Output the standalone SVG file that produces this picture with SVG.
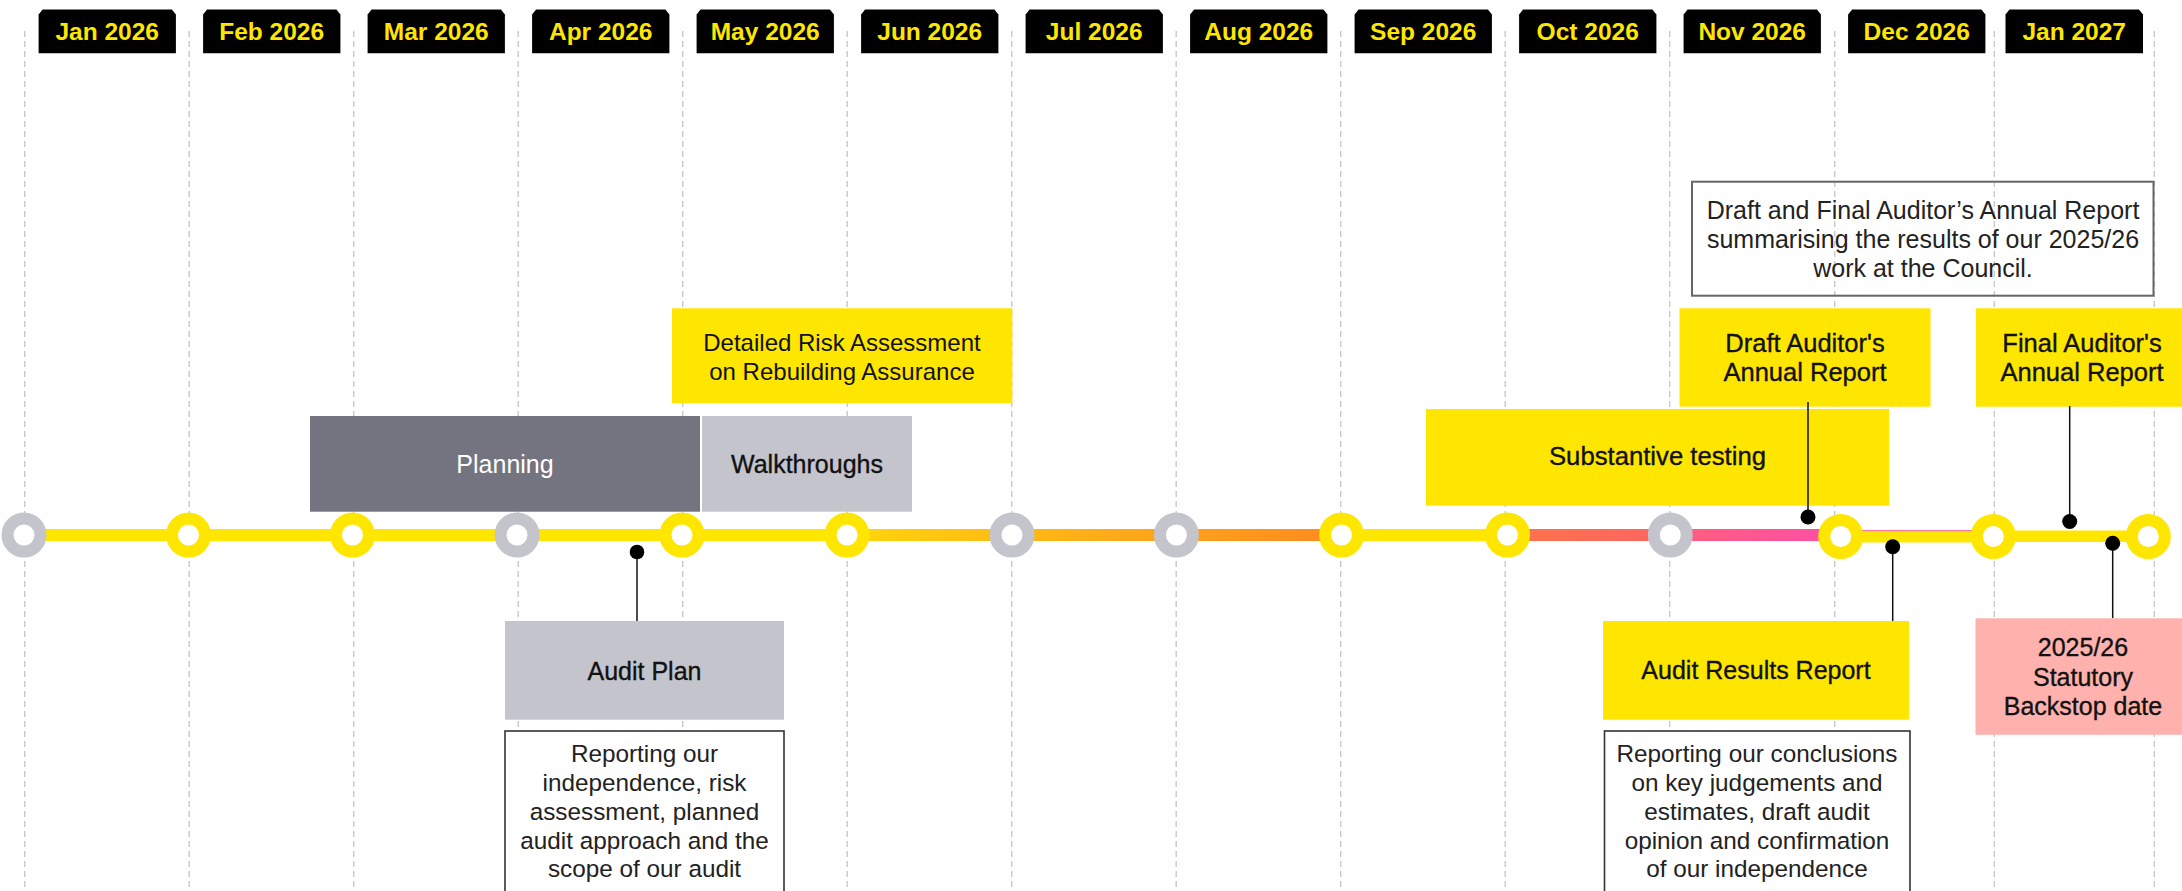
<svg xmlns="http://www.w3.org/2000/svg" width="2182" height="891" viewBox="0 0 2182 891">
<defs>
<style>
.dash{stroke:#C8C8CE;stroke-width:1.4;stroke-dasharray:6 4;fill:none}
.tab{fill:#000}
.tabt{font-family:"Liberation Sans",Arial,sans-serif;font-weight:bold;font-size:24.5px;fill:#FFE600;text-anchor:middle}
.ring{stroke-width:12;fill:#fff}
.ry{stroke:#FFE600}
.rg{stroke:#C4C4CD}
.t{font-family:"Liberation Sans",Arial,sans-serif;font-size:25px;text-anchor:middle;fill:#111}
.med{stroke:#111;stroke-width:0.35}
.desc{font-family:"Liberation Sans",Arial,sans-serif;font-size:24.3px;text-anchor:middle;fill:#222}
.conn{stroke:#111;stroke-width:1.5;fill:none}
.dot{fill:#000}
</style>
<linearGradient id="gOrange" x1="847" y1="0" x2="1341" y2="0" gradientUnits="userSpaceOnUse">
<stop offset="0" stop-color="#FFD60C"/>
<stop offset="0.33" stop-color="#FFBA14"/>
<stop offset="0.66" stop-color="#FFA21B"/>
<stop offset="1" stop-color="#FF8A1F"/>
</linearGradient>
<linearGradient id="gRed" x1="1507" y1="0" x2="1670" y2="0" gradientUnits="userSpaceOnUse">
<stop offset="0" stop-color="#FF744A"/>
<stop offset="1" stop-color="#FF6462"/>
</linearGradient>
<linearGradient id="gPink" x1="1670" y1="0" x2="1841" y2="0" gradientUnits="userSpaceOnUse">
<stop offset="0" stop-color="#FF5F7C"/>
<stop offset="1" stop-color="#FF4EA8"/>
</linearGradient>
</defs>
<rect width="2182" height="891" fill="#fff"/>

<g id="gridlines">
<line class="dash" x1="24.7" y1="31" x2="24.7" y2="891"/>
<line class="dash" x1="189.2" y1="31" x2="189.2" y2="891"/>
<line class="dash" x1="353.7" y1="31" x2="353.7" y2="891"/>
<line class="dash" x1="518.2" y1="31" x2="518.2" y2="891"/>
<line class="dash" x1="682.7" y1="31" x2="682.7" y2="891"/>
<line class="dash" x1="847.2" y1="31" x2="847.2" y2="891"/>
<line class="dash" x1="1011.7" y1="31" x2="1011.7" y2="891"/>
<line class="dash" x1="1176.2" y1="31" x2="1176.2" y2="891"/>
<line class="dash" x1="1340.7" y1="31" x2="1340.7" y2="891"/>
<line class="dash" x1="1505.2" y1="31" x2="1505.2" y2="891"/>
<line class="dash" x1="1669.7" y1="31" x2="1669.7" y2="891"/>
<line class="dash" x1="1834.7" y1="31" x2="1834.7" y2="891"/>
<line class="dash" x1="1994.3" y1="31" x2="1994.3" y2="891"/>
<line class="dash" x1="2154.3" y1="31" x2="2154.3" y2="891"/>
</g>

<g id="months">
<g id="m-jan26"><path class="tab" d="M38.6 14.5 L42.6 9.5 L171.9 9.5 L175.9 14.5 L175.9 53.3 L38.6 53.3 Z"/><text class="tabt" x="107.2" y="40">Jan 2026</text></g>
<g id="m-feb26"><path class="tab" d="M203.1 14.5 L207.1 9.5 L336.4 9.5 L340.4 14.5 L340.4 53.3 L203.1 53.3 Z"/><text class="tabt" x="271.7" y="40">Feb 2026</text></g>
<g id="m-mar26"><path class="tab" d="M367.6 14.5 L371.6 9.5 L500.9 9.5 L504.9 14.5 L504.9 53.3 L367.6 53.3 Z"/><text class="tabt" x="436.2" y="40">Mar 2026</text></g>
<g id="m-apr26"><path class="tab" d="M532.1 14.5 L536.1 9.5 L665.4 9.5 L669.4 14.5 L669.4 53.3 L532.1 53.3 Z"/><text class="tabt" x="600.7" y="40">Apr 2026</text></g>
<g id="m-may26"><path class="tab" d="M696.6 14.5 L700.6 9.5 L829.9 9.5 L833.9 14.5 L833.9 53.3 L696.6 53.3 Z"/><text class="tabt" x="765.2" y="40">May 2026</text></g>
<g id="m-jun26"><path class="tab" d="M861.1 14.5 L865.1 9.5 L994.4 9.5 L998.4 14.5 L998.4 53.3 L861.1 53.3 Z"/><text class="tabt" x="929.7" y="40">Jun 2026</text></g>
<g id="m-jul26"><path class="tab" d="M1025.6 14.5 L1029.6 9.5 L1158.9 9.5 L1162.9 14.5 L1162.9 53.3 L1025.6 53.3 Z"/><text class="tabt" x="1094.2" y="40">Jul 2026</text></g>
<g id="m-aug26"><path class="tab" d="M1190.1 14.5 L1194.1 9.5 L1323.4 9.5 L1327.4 14.5 L1327.4 53.3 L1190.1 53.3 Z"/><text class="tabt" x="1258.7" y="40">Aug 2026</text></g>
<g id="m-sep26"><path class="tab" d="M1354.6 14.5 L1358.6 9.5 L1487.9 9.5 L1491.9 14.5 L1491.9 53.3 L1354.6 53.3 Z"/><text class="tabt" x="1423.2" y="40">Sep 2026</text></g>
<g id="m-oct26"><path class="tab" d="M1519.1 14.5 L1523.1 9.5 L1652.4 9.5 L1656.4 14.5 L1656.4 53.3 L1519.1 53.3 Z"/><text class="tabt" x="1587.7" y="40">Oct 2026</text></g>
<g id="m-nov26"><path class="tab" d="M1683.6 14.5 L1687.6 9.5 L1816.9 9.5 L1820.9 14.5 L1820.9 53.3 L1683.6 53.3 Z"/><text class="tabt" x="1752.2" y="40">Nov 2026</text></g>
<g id="m-dec26"><path class="tab" d="M1848.1 14.5 L1852.1 9.5 L1981.4 9.5 L1985.4 14.5 L1985.4 53.3 L1848.1 53.3 Z"/><text class="tabt" x="1916.7" y="40">Dec 2026</text></g>
<g id="m-jan27"><path class="tab" d="M2005.5 14.5 L2009.5 9.5 L2139 9.5 L2143 14.5 L2143 53.3 L2005.5 53.3 Z"/><text class="tabt" x="2074.2" y="40">Jan 2027</text></g>
</g>

<g id="timeline">
<line x1="24" y1="535" x2="847" y2="535" stroke="#FFE600" stroke-width="12"/>
<rect x="847" y="529" width="494.5" height="12" fill="url(#gOrange)"/>
<line x1="1341" y1="535" x2="1508" y2="535" stroke="#FFE600" stroke-width="12"/>
<rect x="1507.5" y="529" width="163" height="12" fill="url(#gRed)"/>
<rect x="1670" y="529" width="171" height="12" fill="url(#gPink)"/>
<line x1="1840" y1="535" x2="1994" y2="535" stroke="#FF6F9C" stroke-width="10"/>
<line x1="1840" y1="536.7" x2="1994" y2="536.7" stroke="#FFE600" stroke-width="11.5"/>
<line x1="1993" y1="536.2" x2="2148" y2="536.2" stroke="#FFE600" stroke-width="11.5"/>
</g>

<g id="milestones">
<g id="ms-jan26"><circle class="ring rg" cx="24" cy="535" r="16.5"/></g>
<g id="ms-feb26"><circle class="ring ry" cx="188.5" cy="535" r="16.5"/></g>
<g id="ms-mar26"><circle class="ring ry" cx="352.5" cy="535" r="16.5"/></g>
<g id="ms-apr26"><circle class="ring rg" cx="517" cy="535" r="16.5"/></g>
<g id="ms-may26"><circle class="ring ry" cx="682" cy="535" r="16.5"/></g>
<g id="ms-jun26"><circle class="ring ry" cx="847" cy="535" r="16.5"/></g>
<g id="ms-jul26"><circle class="ring rg" cx="1012" cy="535" r="16.5"/></g>
<g id="ms-aug26"><circle class="ring rg" cx="1176.4" cy="535" r="16.5"/></g>
<g id="ms-sep26"><circle class="ring ry" cx="1341.5" cy="535" r="16.5"/></g>
<g id="ms-oct26"><circle class="ring ry" cx="1507.5" cy="535" r="16.5"/></g>
<g id="ms-nov26"><circle class="ring rg" cx="1670.3" cy="535" r="16.5"/></g>
<g id="ms-dec26"><circle class="ring ry" cx="1840.7" cy="536.5" r="16.5"/></g>
<g id="ms-jan27"><circle class="ring ry" cx="1993.3" cy="536.5" r="16.5"/></g>
<g id="ms-end"><circle class="ring ry" cx="2148.3" cy="536.5" r="16.5"/></g>
</g>

<g id="planning">
<rect x="310" y="416" width="390" height="95.7" fill="#747480"/>
<text class="t" x="505" y="472.5" style="fill:#fff">Planning</text>
</g>

<g id="walkthroughs">
<rect x="702" y="416" width="210" height="95.7" fill="#C4C4CD"/>
<text class="t med" x="807" y="472.5">Walkthroughs</text>
</g>

<g id="detailed-risk">
<rect x="672" y="308.3" width="340.3" height="95" fill="#FFE600"/>
<text style="font-family:'Liberation Sans',Arial,sans-serif;font-size:24px;text-anchor:middle;fill:#111" x="842" y="351">Detailed Risk Assessment</text>
<text style="font-family:'Liberation Sans',Arial,sans-serif;font-size:24px;text-anchor:middle;fill:#111" x="842" y="380">on Rebuilding Assurance</text>
</g>

<g id="audit-plan">
<rect x="505" y="621" width="279" height="98.7" fill="#C4C4CD"/>
<text class="t med" x="644.5" y="680">Audit Plan</text>
</g>

<g id="audit-plan-desc">
<rect x="505" y="731" width="279" height="175" fill="#fff" stroke="#333" stroke-width="1.6"/>
<text class="desc" x="644.5" y="762">Reporting our</text>
<text class="desc" x="644.5" y="790.8">independence, risk</text>
<text class="desc" x="644.5" y="819.7">assessment, planned</text>
<text class="desc" x="644.5" y="848.6">audit approach and the</text>
<text class="desc" x="644.5" y="877.4">scope of our audit</text>
</g>

<g id="substantive">
<rect x="1426" y="409" width="463" height="96.7" fill="#FFE600"/>
<text class="t med" x="1657.5" y="465" style="font-size:25.7px">Substantive testing</text>
</g>

<g id="aar-desc">
<rect x="1692" y="181.7" width="461.5" height="114" fill="none" stroke="#666" stroke-width="2"/>
<text class="desc" x="1923" y="219.3" style="font-size:25px">Draft and Final Auditor’s Annual Report</text>
<text class="desc" x="1923" y="248.3" style="font-size:25px">summarising the results of our 2025/26</text>
<text class="desc" x="1923" y="276.5" style="font-size:25px">work at the Council.</text>
</g>

<g id="draft-aar">
<rect x="1679.5" y="308.3" width="251" height="98.4" fill="#FFE600"/>
<text class="t med" x="1805" y="352" style="font-size:25.5px">Draft Auditor's</text>
<text class="t med" x="1805" y="380.7" style="font-size:25.5px">Annual Report</text>
</g>

<g id="final-aar">
<rect x="1976" y="308.3" width="206" height="98.4" fill="#FFE600"/>
<text class="t med" x="2082" y="352" style="font-size:25.5px">Final Auditor's</text>
<text class="t med" x="2082" y="380.7" style="font-size:25.5px">Annual Report</text>
</g>

<g id="audit-results">
<rect x="1603" y="621" width="306" height="98.7" fill="#FFE600"/>
<text class="t med" x="1756" y="679">Audit Results Report</text>
</g>

<g id="audit-results-desc">
<rect x="1604.5" y="731" width="305.5" height="175" fill="#fff" stroke="#333" stroke-width="1.6"/>
<text class="desc" x="1757" y="762.3">Reporting our conclusions</text>
<text class="desc" x="1757" y="791.3">on key judgements and</text>
<text class="desc" x="1757" y="820">estimates, draft audit</text>
<text class="desc" x="1757" y="849">opinion and confirmation</text>
<text class="desc" x="1757" y="877.4">of our independence</text>
</g>

<g id="backstop">
<rect x="1975.5" y="618.3" width="206.5" height="116.5" fill="#FFB2AD"/>
<text class="t med" x="2083" y="656">2025/26</text>
<text class="t med" x="2083" y="685.5">Statutory</text>
<text class="t med" x="2083" y="714.5">Backstop date</text>
</g>

<g id="connectors">
<line class="conn" x1="637" y1="552" x2="637" y2="621"/>
<circle class="dot" cx="637" cy="552" r="7.3"/>
<line class="conn" x1="1808" y1="517" x2="1808" y2="402"/>
<circle class="dot" cx="1808" cy="517" r="7.5"/>
<line class="conn" x1="2069.7" y1="521.5" x2="2069.7" y2="406"/>
<circle class="dot" cx="2069.7" cy="521.5" r="7.5"/>
<line class="conn" x1="1892.7" y1="546.7" x2="1892.7" y2="621"/>
<circle class="dot" cx="1892.7" cy="546.7" r="7.5"/>
<line class="conn" x1="2112.7" y1="543.3" x2="2112.7" y2="618"/>
<circle class="dot" cx="2112.7" cy="543.3" r="7.5"/>
</g>
</svg>
